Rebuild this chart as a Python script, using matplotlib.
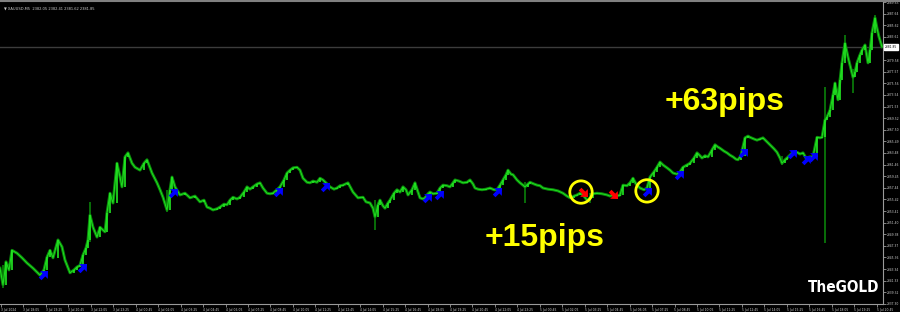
import matplotlib
matplotlib.use('Agg')

import matplotlib.pyplot as plt
import matplotlib.transforms as mtrans
from matplotlib.lines import Line2D
from matplotlib.markers import MarkerStyle
from matplotlib.path import Path
import numpy as np

# XAUUSD M5 - bar number and close
bars = [0, 3, 6, 9, 12, 17, 22, 27, 33, 37, 40, 44, 47, 50, 53, 58, 62, 65, 70, 74,
        77, 80, 83, 86, 88, 90, 93, 97, 100, 103, 105, 107, 110, 113, 117, 120, 122, 125, 128, 132,
        135, 140, 144, 147, 152, 157, 160, 163, 167, 170, 172, 175, 180, 185, 190, 195, 200, 204, 207, 210,
        213, 217, 220, 224, 227, 230, 233, 237, 240, 244, 247, 250, 253, 257, 260, 263, 267, 270, 273, 277,
        280, 284, 287, 290, 293, 297, 300, 303, 307, 310, 313, 317, 320, 323, 327, 330, 334, 337, 340, 343,
        348, 353, 358, 363, 366, 370, 373, 375, 378, 380, 383, 385, 388, 390, 394, 397, 400, 403, 406, 408,
        412, 415, 418, 420, 423, 425, 428, 430, 433, 437, 440, 443, 447, 450, 453, 455, 459, 463, 467, 470,
        473, 475, 478, 482, 486, 490, 494, 497, 500, 503, 506, 508, 511, 513, 517, 520, 523, 525, 528, 530,
        534, 537, 540, 543, 548, 553, 558, 563, 567, 570, 574, 577, 580, 583, 587, 590, 593, 597, 602, 607,
        610, 613, 617, 620, 623, 627, 630, 633, 636, 640, 644, 647, 650, 654, 657, 660, 663, 667, 670, 673,
        677, 680, 683, 687, 690, 694, 697, 700, 702, 705, 708, 712, 715, 718, 720, 724, 727, 730, 733, 736,
        738, 741, 745, 748, 750, 754, 757, 760, 763, 767, 770, 774, 777, 780, 782, 785, 787, 790, 793, 797,
        800, 803, 806, 810, 813, 817, 820, 822, 825, 827, 830, 833, 835, 838, 840, 842, 845, 848, 850, 853,
        855, 857, 860, 862, 865, 868, 870, 872, 875, 877, 879, 882]
close = [2343.5, 2340.6, 2344.6, 2343.2, 2346.6, 2346.1, 2345.3, 2344.4, 2343.5, 2342.8,
         2342.3, 2343.2, 2345.4, 2346.6, 2345.3, 2348.4, 2347.2, 2344.9, 2342.7, 2343.2,
         2343.7, 2344.0, 2345.8, 2347.0, 2348.4, 2352.7, 2350.6, 2348.9, 2350.6, 2350.1,
         2349.8, 2353.1, 2356.5, 2354.8, 2361.7, 2359.3, 2357.6, 2362.8, 2363.5, 2361.7,
         2361.0, 2360.5, 2361.7, 2362.3, 2360.0, 2358.3, 2357.1, 2355.8, 2353.6, 2357.1,
         2359.3, 2357.6, 2356.2, 2356.5, 2355.7, 2356.0, 2355.0, 2355.3, 2354.1, 2353.9,
         2353.6, 2353.8, 2354.1, 2354.6, 2354.5, 2355.3, 2355.8, 2355.5, 2355.8, 2356.7,
         2357.6, 2357.2, 2357.6, 2358.1, 2358.3, 2357.4, 2356.5, 2356.4, 2356.5, 2357.1,
         2357.6, 2358.8, 2360.0, 2360.5, 2360.9, 2361.0, 2360.5, 2359.1, 2358.4, 2358.3,
         2358.6, 2358.4, 2359.1, 2358.8, 2358.1, 2357.6, 2357.2, 2357.4, 2357.8, 2357.9,
         2358.3, 2356.7, 2355.7, 2355.8, 2355.0, 2354.8, 2353.9, 2352.4, 2354.5, 2355.3,
         2354.3, 2353.9, 2354.8, 2355.3, 2356.5, 2357.1, 2356.7, 2357.6, 2357.1, 2356.2,
         2357.1, 2358.3, 2356.7, 2355.7, 2355.5, 2355.7, 2356.4, 2356.7, 2356.4, 2356.5,
         2357.4, 2357.9, 2357.8, 2357.6, 2358.3, 2358.8, 2358.6, 2358.3, 2358.4, 2358.8,
         2358.1, 2357.4, 2357.2, 2357.1, 2357.2, 2357.4, 2357.1, 2357.1, 2357.9, 2358.8,
         2359.7, 2360.5, 2359.8, 2359.7, 2358.8, 2358.3, 2357.9, 2357.6, 2358.1, 2358.4,
         2358.1, 2357.9, 2357.8, 2357.4, 2357.2, 2357.1, 2356.9, 2356.5, 2356.0, 2355.7,
         2356.0, 2356.2, 2356.5, 2356.2, 2355.3, 2355.7, 2356.4, 2356.5, 2356.4, 2356.2,
         2356.0, 2356.2, 2356.0, 2356.2, 2357.9, 2357.8, 2358.3, 2359.1, 2358.1, 2357.4,
         2357.1, 2357.4, 2359.3, 2360.2, 2361.0, 2361.9, 2361.4, 2360.9, 2360.5, 2360.0,
         2359.8, 2360.2, 2361.0, 2361.4, 2361.7, 2362.6, 2363.5, 2363.0, 2362.6, 2363.0,
         2362.8, 2364.0, 2364.9, 2364.5, 2364.3, 2363.8, 2363.5, 2363.1, 2362.8, 2362.4,
         2362.3, 2363.0, 2366.1, 2366.4, 2366.2, 2365.9, 2365.7, 2365.9, 2366.1, 2365.4,
         2364.9, 2364.2, 2363.6, 2362.6, 2361.7, 2362.3, 2362.6, 2363.1, 2363.6, 2363.6,
         2363.3, 2363.5, 2362.6, 2362.8, 2362.8, 2366.2, 2366.1, 2366.2, 2369.2, 2369.7,
         2370.9, 2373.5, 2375.6, 2372.7, 2376.1, 2379.1, 2382.5, 2380.1, 2378.7, 2376.6,
         2377.5, 2379.1, 2380.5, 2381.3, 2382.2, 2379.1, 2381.3, 2384.3, 2386.9, 2385.1,
         2383.6, 2381.9]

# long wicks
wick_bars = [3, 90, 167, 375, 525, 590, 782, 825, 845, 853, 875]
wick_high = [2344.0, 2355.0, 2357.0, 2355.3, 2358.4, 2356.5, 2363.0, 2374.9, 2383.9, 2378.0, 2387.4]
wick_low = [2340.1, 2348.0, 2353.2, 2350.1, 2354.8, 2354.8, 2361.4, 2347.9, 2380.0, 2373.9, 2385.0]

# indicator arrows
buy_bars = [43, 82, 173, 278, 325, 427, 439, 497, 647, 679, 743, 792, 806, 813]
buy_price = [2342.3, 2343.5, 2356.5, 2356.7, 2357.6, 2355.7, 2356.2, 2356.7, 2356.7,
             2359.7, 2363.5, 2363.3, 2362.3, 2362.8]
sell_bars = [583, 613]
sell_price = [2356.7, 2356.4]
circled_bars = [581, 647]
circled_price = [2356.7, 2356.9]

last_price = 2381.85
price_ticks = [2389.65, 2387.64, 2385.62, 2383.61, 2379.58, 2377.57, 2375.56, 2373.54,
               2371.53, 2369.52, 2367.50, 2365.49, 2363.48, 2361.46, 2359.45, 2357.44,
               2355.42, 2353.41, 2351.40, 2349.38, 2347.37, 2345.36, 2343.34, 2341.33,
               2339.32, 2337.30]
time_labels = ['3 Jul 2024', '3 Jul 18:05', '3 Jul 19:25', '3 Jul 20:45', '3 Jul 22:05',
               '3 Jul 23:25', '4 Jul 00:45', '4 Jul 02:05', '4 Jul 03:25', '4 Jul 04:45',
               '4 Jul 06:05', '4 Jul 07:25', '4 Jul 08:45', '4 Jul 10:05', '4 Jul 11:25',
               '4 Jul 12:45', '4 Jul 14:05', '4 Jul 15:25', '4 Jul 16:45', '4 Jul 18:05',
               '4 Jul 19:25', '4 Jul 20:45', '4 Jul 22:05', '4 Jul 23:25', '5 Jul 00:45',
               '5 Jul 02:05', '5 Jul 03:25', '5 Jul 04:45', '5 Jul 06:05', '5 Jul 07:25',
               '5 Jul 08:45', '5 Jul 10:05', '5 Jul 11:25', '5 Jul 12:45', '5 Jul 14:05',
               '5 Jul 15:25', '5 Jul 16:45', '5 Jul 18:05', '5 Jul 19:25', '5 Jul 20:45']
label_step = 22.45

LIME = '#22e622'
DARK = '#0b8c0b'
GREY = '#9a9a9a'

fig = plt.figure(figsize=(9, 3.12), dpi=100, facecolor='black')
ax = fig.add_axes([0, 8 / 312, 883 / 900, 304 / 312], facecolor='black')

bars_a = np.array(bars)
close_a = np.array(close)

# price trace: dark body, bright up-moves on top
ax.plot(bars_a, close_a, color=DARK, lw=2.1, zorder=2)
ax.vlines(wick_bars, wick_low, wick_high, color=DARK, lw=1.1, zorder=2)
up = close_a[1:] > close_a[:-1]
lo = np.minimum(close_a[1:], close_a[:-1])
hi = np.maximum(close_a[1:], close_a[:-1])
ax.vlines(bars_a[1:][up], lo[up], hi[up], color=LIME, lw=1.2, zorder=3)
ax.plot(bars_a, close_a, color=LIME, lw=0.6, zorder=3)

# current price line
ax.axhline(last_price, color='#3c3c3c', lw=1, zorder=1)

# arrows (Wingdings-like thick arrow)
arrow = Path([(0, 1), (-0.85, 0.1), (-0.3, 0.1), (-0.3, -0.75), (0.3, -0.75),
              (0.3, 0.1), (0.85, 0.1), (0, 1)])
buy_m = MarkerStyle(arrow, transform=mtrans.Affine2D().rotate_deg(-45))
sell_m = MarkerStyle(arrow, transform=mtrans.Affine2D().rotate_deg(-135))
ax.scatter(buy_bars, buy_price, marker=buy_m, s=85, color='#0000ff', lw=0, zorder=5)
ax.scatter(sell_bars, sell_price, marker=sell_m, s=85, color='#ff0000', lw=0, zorder=5)
ax.scatter(circled_bars, circled_price, marker='o', s=260, facecolors='none',
           edgecolors='#ffff00', linewidths=2.0, zorder=6)

ax.set_xlim(0, 883)
ax.set_ylim(2337.29, 2390.0)

for s in ['top', 'left']:
    ax.spines[s].set_visible(False)
for s in ['right', 'bottom']:
    ax.spines[s].set_color(GREY)
    ax.spines[s].set_linewidth(0.8)

ax.yaxis.tick_right()
ax.set_yticks(price_ticks)
ax.set_yticklabels(['%.2f' % p for p in price_ticks])
ax.set_xticks(1 + label_step * np.arange(len(time_labels)))
ax.set_xticklabels(time_labels)
for lab in ax.get_xticklabels():
    lab.set_ha('left')
ax.tick_params(colors=GREY, labelcolor='#d0d0d0', labelsize=2.2, length=2, width=0.6, pad=0.8)

# price tag
ax.text(1.002, last_price, '%.2f' % last_price, transform=ax.get_yaxis_transform(),
        fontsize=2.2, color='black', va='center', ha='left',
        bbox=dict(boxstyle='square,pad=0.3', fc='white', ec='white'), clip_on=False)

# window frame + header
fig.add_artist(Line2D([0, 1], [1 - 0.7 / 312] * 2, color='#808080', lw=1.5))
fig.text(4 / 900, 1 - 9 / 312, '\u25bc XAUUSD,M5  2382.05 2382.41 2381.62 2381.85',
         fontsize=2.6, color='#c8c8c8', va='center', ha='left')

big = ['Liberation Sans', 'DejaVu Sans']
fig.text(725 / 900, 1 - 102 / 312, '+63pips', fontsize=23, fontweight='heavy',
         color='#ffff00', ha='center', va='center', family=big)
fig.text(545 / 900, 1 - 238 / 312, '+15pips', fontsize=23, fontweight='heavy',
         color='#ffff00', ha='center', va='center', family=big)
fig.text(844 / 900, 1 - 287 / 312, 'TheGOLD', fontsize=11, fontweight='bold',
         color='white', ha='center', va='center', fontstretch='condensed',
         family=['DejaVu Sans', 'Liberation Sans'])

fig.savefig('out.png', dpi=100, facecolor='black')
plt.close(fig)
